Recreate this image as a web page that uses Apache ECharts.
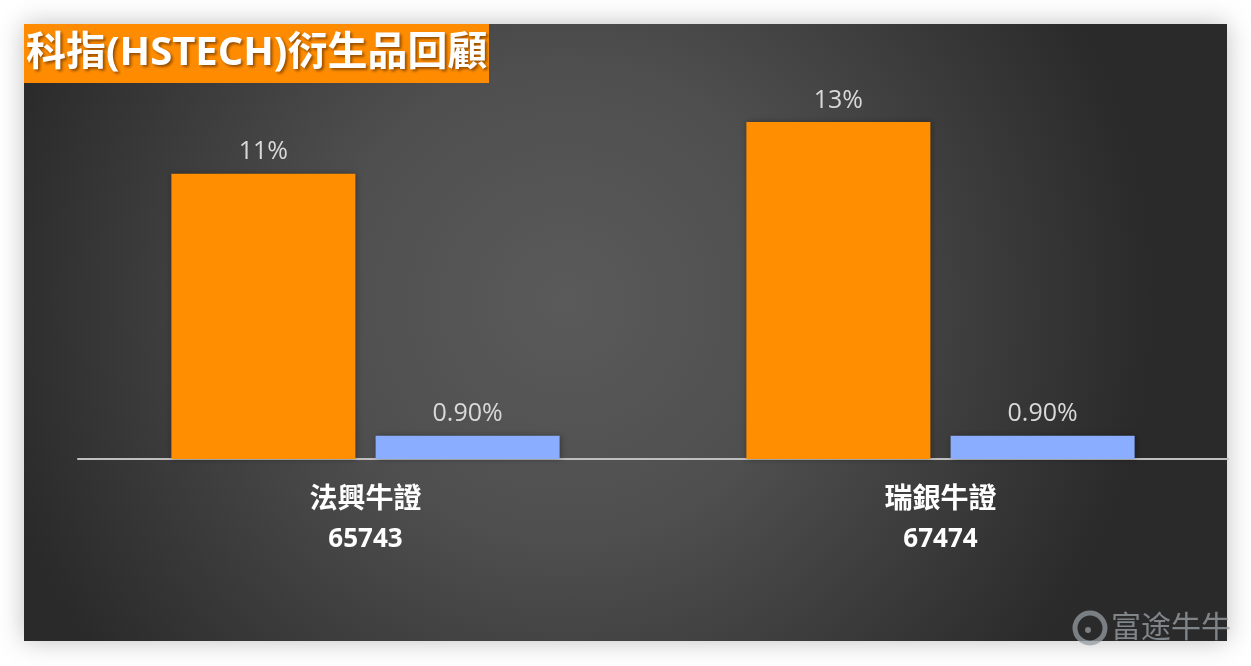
<!DOCTYPE html>
<html><head><meta charset="utf-8">
<script src="https://cdn.jsdelivr.net/npm/echarts@6/dist/echarts.min.js"></script>
<style>html,body{margin:0;padding:0;background:#fff}#c{width:1251px;height:666px}</style>
</head><body><div id="c"></div>
<script>
const titleText = '科指(HSTECH)衍生品回顧';
const categoryNames = ['法興牛證', '瑞銀牛證'];
const categoryCodes = ['65743', '67474'];
const seriesA = [11, 13];
const seriesB = [0.9, 0.9];
const labelsA = ['11%', '13%'];
const labelsB = ['0.90%', '0.90%'];
const watermark = '富途牛牛';

const categories = categoryNames.map((n, i) => n + '\n' + categoryCodes[i]);
const chart = echarts.init(document.getElementById('c'));
const font = '"Open Sans", "Noto Sans CJK TC", sans-serif';
chart.setOption({
  backgroundColor: '#ffffff',
  animation: false,
  graphic: [
    { type: 'rect', z: -10, shape: { x: 24, y: 24, width: 1203, height: 617 },
      style: { fill: { type: 'radial', x: 0.45, y: 0.45, r: 0.95,
        colorStops: [{ offset: 0, color: '#5a5a5a' }, { offset: 0.4, color: '#4f4f4f' }, { offset: 1, color: '#2a2a2a' }] },
        shadowBlur: 24, shadowColor: 'rgba(0,0,0,0.25)' }, silent: true },
    { type: 'rect', z: 10, shape: { x: 24, y: 24, width: 465, height: 59 },
      style: { fill: '#FF8C00' } },
    { type: 'text', z: 11, x: 26, y: 54,
      style: { text: titleText, fill: '#ffffff', font: 'bold 40px "Open Sans", "Noto Sans CJK TC", sans-serif',
        verticalAlign: 'middle', align: 'left',
        textShadowColor: 'rgba(120,60,0,0.8)', textShadowBlur: 3, textShadowOffsetX: 2, textShadowOffsetY: 2 } },
    { type: 'circle', z: 11, shape: { cx: 1090, cy: 628, r: 15 },
      style: { fill: 'none', stroke: 'rgba(150,156,162,0.75)', lineWidth: 5 } },
    { type: 'circle', z: 11, shape: { cx: 1088, cy: 630, r: 3 },
      style: { fill: 'rgba(150,156,162,0.75)' } },
    { type: 'text', z: 11, left: 1111, top: 611,
      style: { text: watermark, fill: 'rgba(150,156,162,0.8)', font: '30px "Noto Sans CJK SC", sans-serif' } }
  ],
  grid: { left: 78, right: 23, top: 96, bottom: 207, containLabel: false },
  xAxis: {
    type: 'category', data: categories,
    axisLine: { lineStyle: { color: '#bfbfbf', width: 2 } },
    axisTick: { show: false },
    axisLabel: { color: '#ffffff', margin: 22, fontFamily: font,
      formatter: v => { const p = v.split('\n'); return '{a|' + p[0] + '}\n{b|' + p[1] + '}'; },
      rich: {
        a: { color: '#ffffff', fontWeight: 'bold', fontSize: 28, lineHeight: 39, fontFamily: font },
        b: { color: '#ffffff', fontWeight: 'bold', fontSize: 26, lineHeight: 39, fontFamily: font }
      } }
  },
  yAxis: { type: 'value', min: 0, max: 14, show: false, splitLine: { show: false } },
  series: [
    { type: 'bar', data: seriesA, barWidth: 184, barGap: '11%',
      itemStyle: { color: '#FF8F00', shadowBlur: 6, shadowColor: 'rgba(0,0,0,0.35)', shadowOffsetX: 1 },
      label: { show: true, position: 'top', distance: 9, color: '#d9d9d9', fontSize: 25, fontFamily: font,
        formatter: p => labelsA[p.dataIndex] } },
    { type: 'bar', data: seriesB, barWidth: 184,
      itemStyle: { color: '#8AADFF', shadowBlur: 6, shadowColor: 'rgba(0,0,0,0.35)', shadowOffsetX: 1 },
      label: { show: true, position: 'top', distance: 9, color: '#d9d9d9', fontSize: 25, fontFamily: font,
        formatter: p => labelsB[p.dataIndex] } }
  ]
});
</script></body></html>
